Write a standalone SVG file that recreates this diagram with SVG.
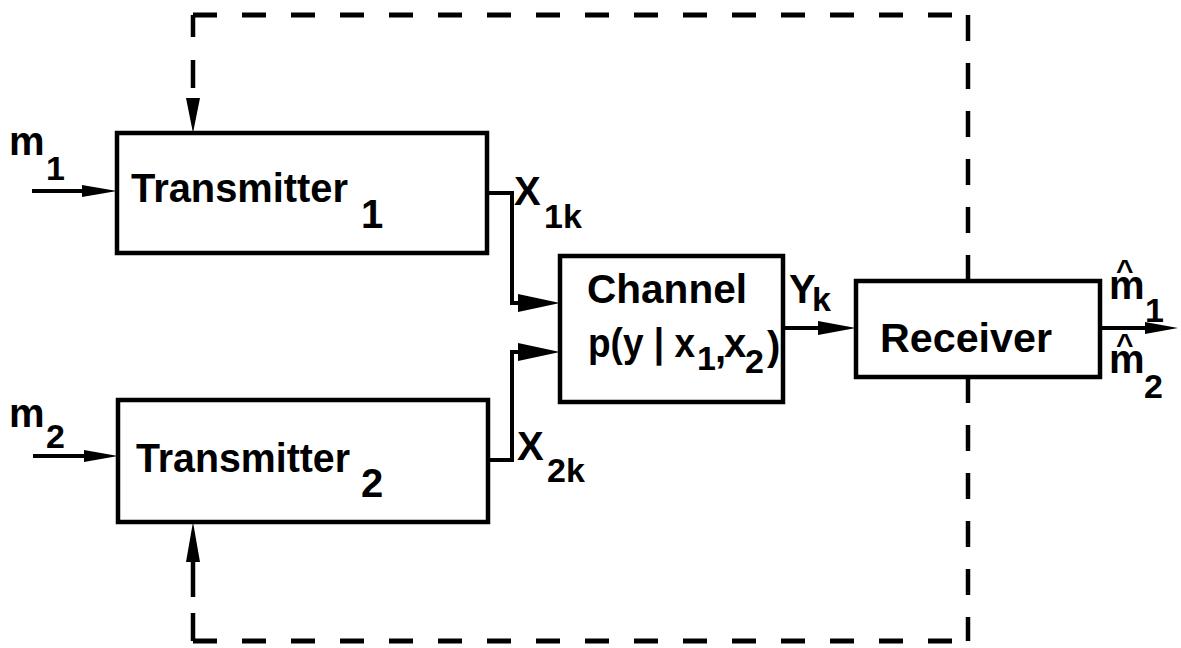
<svg xmlns="http://www.w3.org/2000/svg" width="1181" height="648" viewBox="0 0 1181 648">
<style>
.box{fill:#fff;stroke:#000;stroke-width:4.5}
.ln{fill:none;stroke:#000;stroke-width:4}
.dh{fill:none;stroke:#000;stroke-width:5;stroke-dasharray:24 25}
.dv{fill:none;stroke:#000;stroke-width:4.5;stroke-dasharray:26 22}
.ds{fill:none;stroke:#000;stroke-width:4.5}
.hd{fill:#000;stroke:none}
text{font-family:"Liberation Sans",Arial,Helvetica,sans-serif;font-weight:bold;fill:#000}
.t{font-size:40px}
.s{font-size:34px}
</style>
<rect width="1181" height="648" fill="#fff"/>
<g id="feedback">
<line class="dh" x1="193" y1="15" x2="968" y2="15"/>
<line class="dh" x1="193" y1="641" x2="968" y2="641"/>
<path class="ds" d="M193 15 V37 M193 60 V88"/>
<polygon class="hd" points="186,98 200,98 193,133"/>
<path class="ds" d="M193 641 V613 M193 597 V560"/>
<polygon class="hd" points="186,562 200,562 193,522"/>
<line class="dv" x1="968" y1="15" x2="968" y2="281"/>
<line class="dv" x1="968" y1="377" x2="968" y2="641"/>
</g>
<g id="connectors">
<line class="ln" x1="32" y1="191" x2="90" y2="191"/>
<polygon class="hd" points="82,185 117,191 82,197"/>
<line class="ln" x1="33" y1="456" x2="92" y2="456"/>
<polygon class="hd" points="84,450 118,456 84,462"/>
<path class="ln" d="M487 193 H512 V303 H525"/>
<polygon class="hd" points="518,294 560,303 518,312"/>
<path class="ln" d="M488 460 H512 V352 H525"/>
<polygon class="hd" points="518,343 560,352 518,361"/>
<line class="ln" x1="783" y1="328" x2="830" y2="328"/>
<polygon class="hd" points="818,321 856,328 818,335"/>
<line class="ln" x1="1100" y1="328" x2="1150" y2="328"/>
<polygon class="hd" points="1145,322 1178,328 1145,334"/>
</g>
<g id="transmitter1">
<rect class="box" x="117" y="133" width="370" height="120"/>
<text class="t" x="131" y="202" font-size="38" textLength="217" lengthAdjust="spacingAndGlyphs">Transmitter</text>
<text class="t" x="361" y="228">1</text>
</g>
<g id="transmitter2">
<rect class="box" x="118" y="400" width="370" height="122"/>
<text class="t" x="136" y="472" font-size="38" textLength="214" lengthAdjust="spacingAndGlyphs">Transmitter</text>
<text class="t" x="361" y="497">2</text>
</g>
<g id="channel">
<rect class="box" x="560" y="256" width="223" height="146"/>
<text class="t" x="587" y="303" textLength="160" lengthAdjust="spacingAndGlyphs">Channel</text>
<text class="t" x="588" y="357" textLength="107" lengthAdjust="spacingAndGlyphs">p(y | x</text>
<text class="s" x="697" y="370">1</text>
<text class="t" x="715" y="362" font-size="32">,</text>
<text class="t" x="724" y="357">x</text>
<text class="s" x="745" y="373">2</text>
<text class="t" x="767" y="360">)</text>
</g>
<g id="receiver">
<rect class="box" x="856" y="281" width="244" height="96"/>
<text class="t" x="880" y="352" textLength="172" lengthAdjust="spacingAndGlyphs">Receiver</text>
</g>
<g id="labels">
<text class="t" x="9" y="155" font-size="38">m</text>
<text class="s" x="46" y="180">1</text>
<text class="t" x="9" y="427" font-size="38">m</text>
<text class="s" x="46" y="448">2</text>
<text class="t" x="514" y="205">X</text>
<text class="s" x="544" y="228">1k</text>
<text class="t" x="517" y="460">X</text>
<text class="s" x="547" y="482">2k</text>
<text class="t" x="789" y="303" font-size="44">Y</text>
<text class="s" x="812" y="311" font-size="30">k</text>
<text x="1116" y="280" font-size="30">^</text>
<text class="t" x="1109" y="299" font-size="36">m</text>
<text class="s" x="1145" y="322">1</text>
<text x="1116" y="354" font-size="30">^</text>
<text class="t" x="1109" y="373" font-size="36">m</text>
<text class="s" x="1144" y="398">2</text>
</g>
</svg>
